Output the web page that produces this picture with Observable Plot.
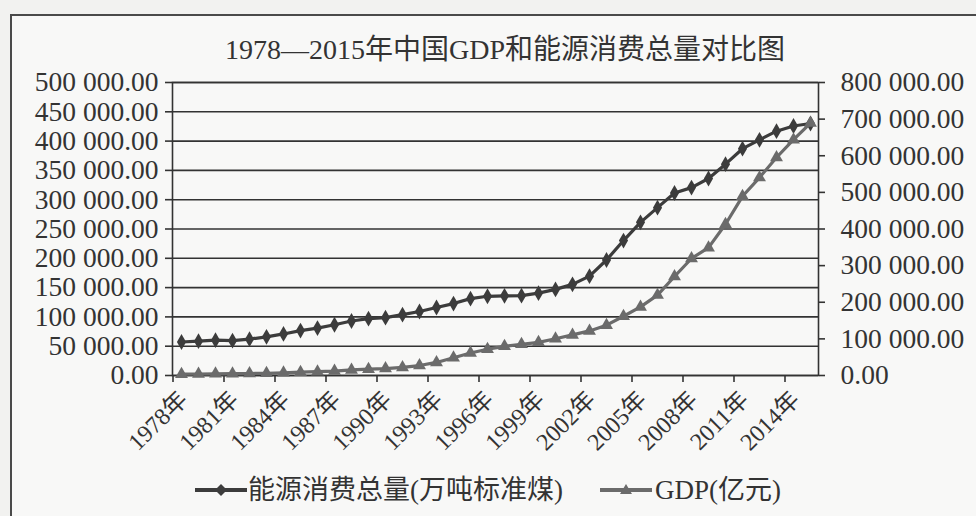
<!DOCTYPE html>
<html><head><meta charset="utf-8">
<script src="https://cdn.jsdelivr.net/npm/d3@7"></script>
<script src="https://cdn.jsdelivr.net/npm/@observablehq/plot@0.6"></script>
<style>
body{margin:0;background:#f2f2f0;width:976px;height:516px;overflow:hidden;position:relative;font-family:"Liberation Serif","Noto Sans CJK SC",serif;color:#333}
#frame{position:absolute;left:10px;top:14px;width:1000px;height:540px;border:2px solid #4a4a4a;background:#f8f8f7;box-sizing:border-box}
#title{position:absolute;left:0;top:33px;width:1010px;text-align:center;font-size:28px;line-height:34px;white-space:nowrap}
#chart{position:absolute;left:0;top:56px}
.leg{position:absolute;top:473px;height:34px;line-height:34px;font-size:27px;white-space:nowrap}
.sym{position:absolute;top:479px}
</style></head>
<body>
<div id="frame"></div>
<div id="title">1978—2015年中国GDP和能源消费总量对比图</div>
<div id="chart"></div>
<svg class="sym" style="left:193px" width="56" height="22"><line x1="2" y1="11" x2="54" y2="11" stroke="#3c3c3c" stroke-width="4"/><path d="M28 5 L34 11 L28 17 L22 11 Z" fill="#3c3c3c"/></svg>
<span class="leg" style="left:248px">能源消费总量(万吨标准煤)</span>
<svg class="sym" style="left:598px" width="56" height="22"><line x1="2" y1="11" x2="54" y2="11" stroke="#6b6b6b" stroke-width="4"/><path d="M28 5 L34 15 L22 15 Z" fill="#6b6b6b"/></svg>
<span class="leg" style="left:655px">GDP(亿元)</span>
<script>
const years = [1978,1979,1980,1981,1982,1983,1984,1985,1986,1987,1988,1989,1990,1991,1992,1993,1994,1995,1996,1997,1998,1999,2000,2001,2002,2003,2004,2005,2006,2007,2008,2009,2010,2011,2012,2013,2014,2015];
const energy = [57144,58588,60275,59447,62067,66040,70904,76682,80850,86632,92997,96934,98703,103783,109170,115993,122737,131176,135192,135909,136184,140569,146964,155547,169577,197083,230281,261369,286467,311442,320611,336126,360648,387043,402138,416913,425806,430000];
const gdp = [3679,4101,4588,4936,5373,6021,7279,9099,10376,12175,15180,17180,18873,22006,27195,35673,48638,61340,71814,79715,85196,90564,100280,110863,121717,137422,161840,187319,219439,270232,319516,349081,413030,489301,540367,595244,643974,689052];
const leftTicks = [0,50000,100000,150000,200000,250000,300000,350000,400000,450000,500000];
const rightTicks = [0,100000,200000,300000,400000,500000,600000,700000,800000];
const labelYears = [1978,1981,1984,1987,1990,1993,1996,1999,2002,2005,2008,2011,2014];

const ratio = 500000/800000;
const fmt = d3.formatLocale({decimal:".",thousands:" ",grouping:[3],currency:["",""]}).format(",.2f");
const rows = years.map((y,i)=>({year:y, energy:energy[i], gdp:gdp[i]}));
const font = '"Liberation Serif","Noto Sans CJK SC",serif';

const chart = Plot.plot({
  width:976, height:400,
  marginLeft:172, marginRight:158, marginTop:26, marginBottom:81,
  style:{fontFamily:font, color:"#333", background:"transparent", overflow:"visible"},
  x:{type:"point", domain:years, padding:0.5, axis:null},
  y:{domain:[0,500000], axis:null},
  marks:[
    Plot.ruleY(leftTicks, {stroke:"#333", strokeWidth:1.6}),
    Plot.axisY({anchor:"left", label:null, ticks:leftTicks, tickFormat:fmt, tickSize:7, tickPadding:7, fontSize:27.5, strokeWidth:1.6}),
    Plot.axisY({anchor:"right", label:null, ticks:rightTicks.map(v=>v*ratio), tickFormat:d=>fmt(Math.round(d/ratio)), tickSize:6, tickPadding:16, fontSize:27.5, strokeWidth:1.6}),
    Plot.axisX({label:null, ticks:labelYears, tickSize:7, tickFormat:()=>"", dx:-8.5, strokeWidth:1.6}),
    Plot.frame({stroke:"#333", strokeWidth:1.6}),
    Plot.text(labelYears, {x:d=>d, y:0, text:d=>d+"年", rotate:-45, textAnchor:"end", lineAnchor:"middle", dx:2, dy:20, fontSize:24, fill:"#333"}),
    Plot.line(rows, {x:"year", y:"energy", stroke:"#3c3c3c", strokeWidth:3.2}),
    Plot.dot(rows, {x:"year", y:"energy", symbol:"diamond", r:4.8, fill:"#3c3c3c"}),
    Plot.line(rows, {x:"year", y:d=>d.gdp*ratio, stroke:"#6b6b6b", strokeWidth:3.2}),
    Plot.dot(rows, {x:"year", y:d=>d.gdp*ratio, symbol:"triangle", r:4.8, fill:"#6b6b6b"})
  ]
});
document.getElementById("chart").appendChild(chart);
</script>
</body></html>
